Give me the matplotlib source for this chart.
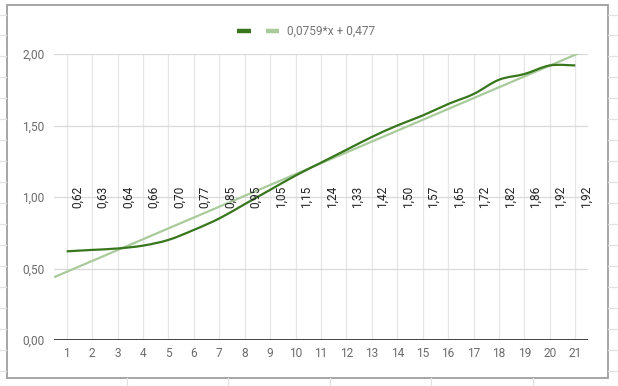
import matplotlib
matplotlib.use("Agg")
import matplotlib.pyplot as plt
from matplotlib.path import Path
from matplotlib.patches import PathPatch, Rectangle
from matplotlib.lines import Line2D
import numpy as np

# ---- data ----
categories = list(range(1, 22))
values = [0.62, 0.63, 0.64, 0.66, 0.70, 0.77, 0.85, 0.95, 1.05, 1.15, 1.24,
          1.33, 1.42, 1.50, 1.57, 1.65, 1.72, 1.82, 1.86, 1.92, 1.92]
value_labels = ["0,62", "0,63", "0,64", "0,66", "0,70", "0,77", "0,85", "0,95",
                "1,05", "1,15", "1,24", "1,33", "1,42", "1,50", "1,57", "1,65",
                "1,72", "1,82", "1,86", "1,92", "1,92"]
trend_slope = 0.0759
trend_intercept = 0.477
trend_label = "0,0759*x + 0,477"
y_ticks = [0.0, 0.5, 1.0, 1.5, 2.0]
y_tick_labels = ["0,00", "0,50", "1,00", "1,50", "2,00"]

plt.rcParams['font.family'] = ['Roboto', 'DejaVu Sans']

W, H = 618, 386
fig = plt.figure(figsize=(W / 100, H / 100), dpi=100)

DARK = '#38761d'
LIGHT = '#a9cb9c'
GRID = '#e6e6e6'
TICK = '#6b6b6b'

# axes in pixel coords
left, right, top, bottom = 54, 588, 54, 340
ax = fig.add_axes([left / W, 1 - bottom / H, (right - left) / W, (bottom - top) / H])
ax.set_xlim(0.5, 21.5)
ax.set_ylim(0, 2)
for s in ax.spines.values():
    s.set_visible(False)

# gridlines
for x in categories:
    ax.axvline(x, color=GRID, lw=0.9, zorder=0)
for y in y_ticks[1:]:
    ax.axhline(y, color='#d9d9d9', lw=0.9, zorder=0)
ax.axhline(0, color='#333333', lw=1.3, zorder=3)

# trend line
xt = np.array([0.5, 21.5])
ax.plot(xt, trend_slope * (xt - 1) + trend_intercept, color=LIGHT, lw=1.6, zorder=2,
        solid_capstyle='butt')

# smooth data line (Catmull-Rom -> cubic Bezier)
xs = np.array(categories, dtype=float)
ys = np.array(values, dtype=float)
verts = [(xs[0], ys[0])]
codes = [Path.MOVETO]
n = len(xs)
for i in range(n - 1):
    p0 = (xs[max(i - 1, 0)], ys[max(i - 1, 0)])
    p1 = (xs[i], ys[i])
    p2 = (xs[i + 1], ys[i + 1])
    p3 = (xs[min(i + 2, n - 1)], ys[min(i + 2, n - 1)])
    c1 = (p1[0] + (p2[0] - p0[0]) / 6, p1[1] + (p2[1] - p0[1]) / 6)
    c2 = (p2[0] - (p3[0] - p1[0]) / 6, p2[1] - (p3[1] - p1[1]) / 6)
    verts += [c1, c2, p2]
    codes += [Path.CURVE4] * 3
ax.add_patch(PathPatch(Path(verts, codes), fill=False, edgecolor=DARK, lw=1.6, zorder=4))

# rotated value labels
for x, lab in zip(categories, value_labels):
    ax.text(x + 0.43, 1.0, lab, rotation=90, ha='center', va='center',
            fontsize=8.6, color='#222222', zorder=5)

# ticks
ax.set_xticks(categories)
ax.set_xticklabels([str(c) for c in categories])
ax.set_yticks(y_ticks)
ax.set_yticklabels(y_tick_labels)
ax.tick_params(axis='both', length=0, colors=TICK, labelsize=8.6)
ax.tick_params(axis='x', pad=5)
ax.tick_params(axis='y', pad=7)

# legend
for (x0, x1), c in [((237, 251), DARK), ((266, 279), LIGHT)]:
    fig.add_artist(Line2D([x0 / W, x1 / W], [1 - 31 / H] * 2, color=c, lw=3.2,
                          solid_capstyle='butt'))
fig.text(287 / W, 1 - 31 / H, trend_label, ha='left', va='center',
         fontsize=8.6, color='#757575')

# chart frame and spreadsheet surroundings
SHEET = '#e2e2e2'
row_ys = [14.5 + 20.97 * k for k in range(18)]
for ry in row_ys:
    fig.add_artist(Line2D([0, 6 / W], [1 - ry / H] * 2, color=SHEET, lw=0.9))
    fig.add_artist(Line2D([608 / W, 1], [1 - ry / H] * 2, color=SHEET, lw=0.9))
for cx in [127, 228, 330, 431, 533]:
    fig.add_artist(Line2D([cx / W] * 2, [0, 1 - 378 / H], color=SHEET, lw=0.9))
fig.add_artist(Rectangle((6.5 / W, 1 - 377.5 / H), 601 / W, 372.5 / H,
                         fill=False, edgecolor='#9e9e9e', lw=1.3))

fig.savefig('out.png', dpi=100)
